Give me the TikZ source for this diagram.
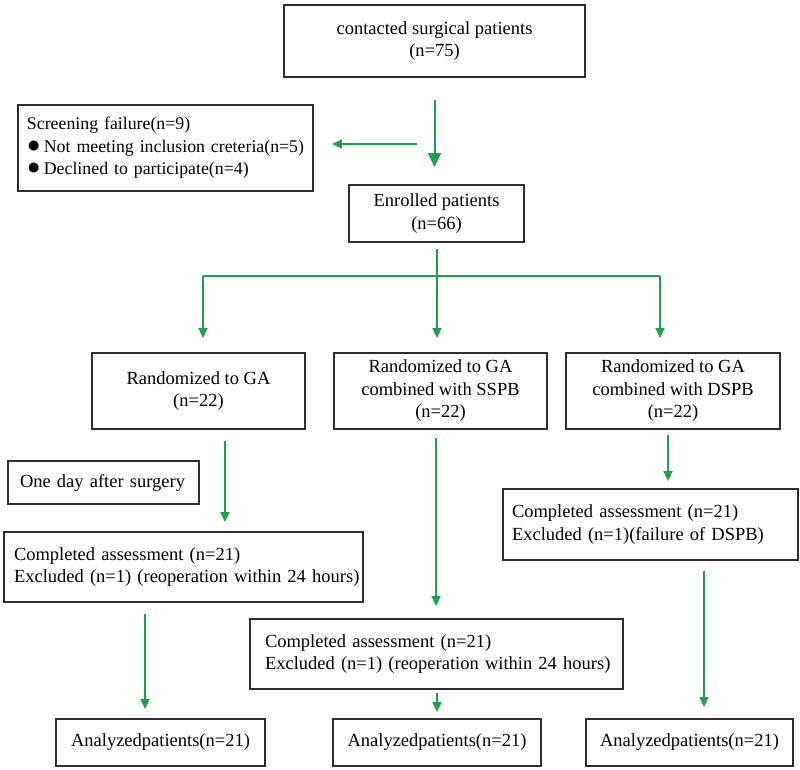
\documentclass[tikz,border=0pt]{standalone}
\usepackage{fontspec}
\setmainfont{Liberation Serif}
\usetikzlibrary{arrows.meta}
\definecolor{flowgreen}{RGB}{30,160,80}
\definecolor{boxline}{RGB}{50,45,45}
\newcommand{\dotmark}{{\fontsize{23}{0}\selectfont ●}\hspace{3pt}}
\tikzset{
	box/.style={draw=boxline, line width=1.8pt, align=center, inner sep=0pt, font=\fontsize{18.5}{22.5}\selectfont},
	note/.style={box, align=left},
	flow/.style={draw=flowgreen, line width=1.5pt},
	arr/.style={flow, -{Triangle[length=10pt,width=9pt]}},
	bigarr/.style={flow, line width=2pt, -{Triangle[length=14pt,width=13pt]}}
}
\begin{document}
\begin{tikzpicture}[x=1pt,y=-1pt]
		\useasboundingbox (0,0) rectangle (800,769);
		\node[box, minimum width=301pt, minimum height=72pt] (contact) at (434.5,41) {contacted surgical patients\\(n=75)};
		\node[note, minimum width=295pt, minimum height=86pt, text width=277pt, font=\fontsize{17.8}{22.5}\selectfont] (screen) at (165.5,148) {\mbox{Screening failure(n=9)}\\\mbox{\dotmark Not meeting inclusion creteria(n=5)}\\\mbox{\dotmark Declined to participate(n=4)}};
		\node[box, minimum width=175pt, minimum height=57pt] (enrol) at (436.5,213.5) {Enrolled patients\\(n=66)};
		\node[box, minimum width=213pt, minimum height=76pt] (rgA) at (198.5,391) {Randomized to GA\\(n=22)};
		\node[box, minimum width=213pt, minimum height=76pt] (rgS) at (440.5,391) {Randomized to GA\\combined with SSPB\\(n=22)};
		\node[box, minimum width=214pt, minimum height=76pt] (rgD) at (673,391) {Randomized to GA\\combined with DSPB\\(n=22)};
		\node[note, minimum width=191pt, minimum height=43pt, text width=167pt] (oneday) at (103.5,482.5) {One day after surgery};
		\node[note, minimum width=359pt, minimum height=70pt, text width=339pt] (compA) at (183.5,567) {Completed assessment (n=21)\\\mbox{Excluded (n=1) (reoperation within 24 hours)}};
		\node[note, minimum width=295pt, minimum height=71pt, text width=277pt] (compD) at (650.5,524.5) {Completed assessment (n=21)\\Excluded (n=1)(failure of DSPB)};
		\node[note, minimum width=373pt, minimum height=70pt, text width=343pt] (compS) at (436.5,654) {Completed assessment (n=21)\\\mbox{Excluded (n=1) (reoperation within 24 hours)}};
		\node[box, minimum width=209pt, minimum height=47pt] (anA) at (160.5,742.5) {Analyzedpatients(n=21)};
		\node[box, minimum width=208pt, minimum height=47pt] (anS) at (437,742.5) {Analyzedpatients(n=21)};
		\node[box, minimum width=207pt, minimum height=47pt] (anD) at (689.5,742.5) {Analyzedpatients(n=21)};
		\coordinate (split) at (417,144);
		\coordinate (hub) at (437,276);
		\coordinate (brA) at (203,276);
		\coordinate (brD) at (660,276);
		\draw[bigarr, shorten <=22pt, shorten >=17pt] (contact.south) -- (contact.south |- enrol.north);
		\draw[arr, shorten >=18pt] (split) -- (split -| screen.east);
		\draw[flow, shorten <=6pt] (enrol.south -| hub) -- (hub);
		\draw[flow, line width=2.2pt] (brA) -- (brD);
		\foreach \b/\r in {brA/rgA, hub/rgS, brD/rgD}
		{
			\draw[arr, shorten >=14pt] (\b) -- (\b |- \r.north);
		}
		\draw[arr, shorten <=11pt, shorten >=9pt] (rgA.south -| 225,0) -- (compA.north -| 225,0);
		\draw[arr, shorten <=8pt, shorten >=12pt] (rgS.south -| 436,0) -- (compS.north -| 436,0);
		\draw[arr, shorten <=5pt, shorten >=7pt] (rgD.south -| 668,0) -- (compD.north -| 668,0);
		\draw[arr, shorten <=11pt, shorten >=9pt] (compA.south -| 145,0) -- (anA.north -| 145,0);
		\draw[arr, shorten <=3pt, shorten >=6pt] (compS.south -| 437,0) -- (anS.north -| 437,0);
		\draw[arr, shorten <=10pt, shorten >=11pt] (compD.south -| 704,0) -- (anD.north -| 704,0);
		\end{tikzpicture}
\end{document}
